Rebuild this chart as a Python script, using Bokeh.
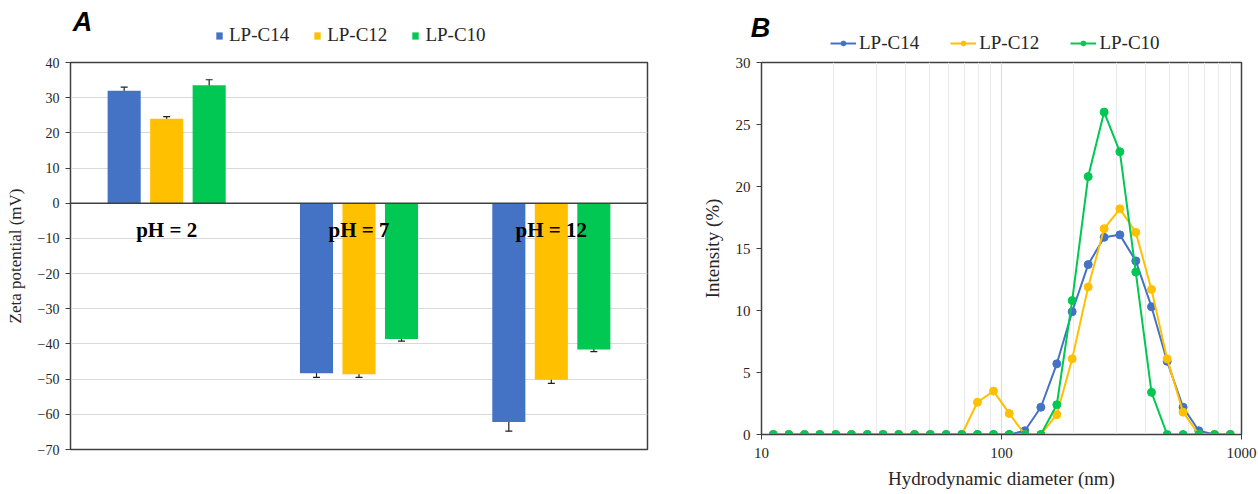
import numpy as np
from bokeh.plotting import figure
from bokeh.models import (ColumnDataSource, Whisker, TeeHead, Span, Legend, LegendItem, Label,
                          FixedTicker, Range1d, PrintfTickFormatter)
from bokeh.layouts import row, column
from bokeh.transform import dodge
from bokeh.core.properties import value
from bokeh.embed import file_html
from bokeh.resources import INLINE

# ---------------- data ----------------
categories = ["pH = 2", "pH = 7", "pH = 12"]
series_names = ["LP-C14", "LP-C12", "LP-C10"]
zeta_c14 = [32.0, -48.3, -62.2]
zeta_c12 = [24.0, -48.6, -50.2]
zeta_c10 = [33.5, -38.6, -41.6]
err_c14 = [1.0, 1.2, 2.6]
err_c12 = [0.6, 0.9, 1.0]
err_c10 = [1.6, 0.6, 0.6]
zeta_ticks = [-70, -60, -50, -40, -30, -20, -10, 0, 10, 20, 30, 40]

diameter_nm = [11.2, 13.0, 15.1, 17.5, 20.4, 23.7, 27.6, 32.1, 37.3, 43.4,
               50.5, 58.8, 68.3, 79.4, 92.6, 107.7, 125.1, 145.9, 170.0, 197.0,
               229.7, 267.7, 311.3, 362.7, 421.7, 490.0, 571.0, 664.0, 772.0, 898.0]
intensity_c14 = [0, 0, 0, 0, 0, 0, 0, 0, 0, 0,
                 0, 0, 0, 0, 0, 0, 0.3, 2.2, 5.7, 9.9,
                 13.7, 15.9, 16.1, 14.0, 10.3, 5.9, 2.2, 0.3, 0, 0]
intensity_c12 = [0, 0, 0, 0, 0, 0, 0, 0, 0, 0,
                 0, 0, 0, 2.6, 3.5, 1.7, 0, 0, 1.6, 6.1,
                 11.9, 16.6, 18.2, 16.3, 11.7, 6.1, 1.8, 0, 0, 0]
intensity_c10 = [0, 0, 0, 0, 0, 0, 0, 0, 0, 0,
                 0, 0, 0, 0, 0, 0, 0, 0, 2.4, 10.8,
                 20.8, 26.0, 22.8, 13.1, 3.4, 0, 0, 0, 0, 0]
x_major = [10, 100, 1000]
x_minor = [20, 30, 40, 50, 60, 70, 80, 90, 200, 300, 400, 500, 600, 700, 800, 900]
y_ticks_b = [0, 5, 10, 15, 20, 25, 30]

colors = ["#4472C4", "#FFC000", "#00C853"]
SERIF = "Liberation Serif"
SANS = "Liberation Sans"
TXT = "#262626"
AX = "#404040"
keys = ["c14", "c12", "c10"]

srcA = ColumnDataSource(dict(
    idx=list(range(len(categories))), cat=categories,
    c14=zeta_c14, c12=zeta_c12, c10=zeta_c10,
    c14_lo=[v - e for v, e in zip(zeta_c14, err_c14)], c14_hi=[v + e for v, e in zip(zeta_c14, err_c14)],
    c12_lo=[v - e for v, e in zip(zeta_c12, err_c12)], c12_hi=[v + e for v, e in zip(zeta_c12, err_c12)],
    c10_lo=[v - e for v, e in zip(zeta_c10, err_c10)], c10_hi=[v + e for v, e in zip(zeta_c10, err_c10)],
))
srcB = ColumnDataSource(dict(d=diameter_nm, c14=intensity_c14, c12=intensity_c12, c10=intensity_c10))

# ---------------- panel A ----------------
WA = 680
pA = figure(frame_width=577, frame_height=387, min_border_left=70, min_border_right=33,
            min_border_top=8, min_border_bottom=38,
            x_range=Range1d(-0.5, 2.5), y_range=Range1d(-70, 40),
            output_backend="svg", toolbar_location=None)
pA.xaxis.visible = False
pA.xgrid.grid_line_color = None
pA.ygrid.grid_line_color = "#D9D9D9"
pA.ygrid.ticker = FixedTicker(ticks=zeta_ticks)
pA.yaxis.ticker = FixedTicker(ticks=zeta_ticks)
pA.yaxis.axis_label = "Zeta potential (mV)"
pA.yaxis.axis_label_text_font = SERIF
pA.yaxis.axis_label_text_font_style = "normal"
pA.yaxis.axis_label_text_font_size = "17px"
pA.yaxis.axis_label_text_color = TXT
pA.yaxis.axis_label_standoff = 10
pA.yaxis.major_label_text_font = SERIF
pA.yaxis.major_label_text_font_size = "14px"
pA.yaxis.major_label_text_color = TXT
pA.yaxis.major_label_standoff = 6
pA.yaxis.major_tick_in = 0
pA.yaxis.major_tick_out = 5
pA.yaxis.minor_tick_line_color = None
pA.yaxis.axis_line_color = AX
pA.yaxis.major_tick_line_color = AX
pA.outline_line_color = AX
pA.outline_line_width = 1.5

offsets = [-0.221, 0.0, 0.221]
for k, off, col in zip(keys, offsets, colors):
    pA.vbar(x=dodge("idx", off), top=k, bottom=0, width=0.172, source=srcA,
            fill_color=col, line_color=None)
for k, off in zip(keys, offsets):
    w = Whisker(source=srcA, base=dodge("idx", off), upper=k + "_hi", lower=k + "_lo",
                line_color="#202020", line_width=1.2,
                upper_head=TeeHead(size=7, line_color="#202020", line_width=1.2),
                lower_head=TeeHead(size=7, line_color="#202020", line_width=1.2))
    pA.add_layout(w)
pA.add_layout(Span(location=0, dimension="width", line_color=AX, line_width=1.5))
pA.text(x="idx", y=-7.5, text="cat", source=srcA, text_font=value(SERIF),
        text_font_style="bold", text_font_size="21px", text_align="center",
        text_baseline="middle", text_color="#000000")

# ---------------- panel B ----------------
WB = 578
pB = figure(frame_width=480, frame_height=372, min_border_left=81, min_border_right=17,
            min_border_top=8, min_border_bottom=57,
            x_axis_type="log", x_range=Range1d(10, 1000), y_range=Range1d(0, 30),
            output_backend="svg", toolbar_location=None)
pB.xaxis.ticker = FixedTicker(ticks=x_major, minor_ticks=x_minor)
pB.xgrid.ticker = FixedTicker(ticks=x_major, minor_ticks=x_minor)
pB.xaxis.formatter = PrintfTickFormatter(format="%d")
pB.xgrid.grid_line_color = "#D9D9D9"
pB.xgrid.minor_grid_line_color = "#EBEBEB"
pB.ygrid.grid_line_color = None
pB.yaxis.ticker = FixedTicker(ticks=y_ticks_b)
for ax in (pB.xaxis[0], pB.yaxis[0]):
    ax.major_label_text_font = SERIF
    ax.major_label_text_font_size = "15px"
    ax.major_label_text_color = TXT
    ax.axis_label_text_font = SERIF
    ax.axis_label_text_font_style = "normal"
    ax.axis_label_text_font_size = "19px"
    ax.axis_label_text_color = TXT
    ax.major_tick_in = 0
    ax.major_tick_out = 5
    ax.minor_tick_line_color = None
    ax.axis_line_color = AX
    ax.major_tick_line_color = AX
pB.xaxis.axis_label = "Hydrodynamic diameter (nm)"
pB.xaxis.major_label_standoff = 8
pB.xaxis.axis_label_standoff = 7
pB.yaxis.axis_label = "Intensity (%)"
pB.yaxis.major_label_standoff = 6
pB.yaxis.axis_label_standoff = 10
pB.outline_line_color = AX
pB.outline_line_width = 1.5

for k, col in zip(keys, colors):
    pB.line(x="d", y=k, source=srcB, line_color=col, line_width=2)
    pB.scatter(x="d", y=k, source=srcB, size=8, fill_color=col, line_color=col)

# ---------------- header strip (panel letters + legends) ----------------
WH, HH = WA + WB, 54
hdr = figure(width=WH, height=HH, x_range=Range1d(0, WH), y_range=Range1d(0, HH),
             min_border=0, output_backend="svg", toolbar_location=None)
hdr.axis.visible = False
hdr.grid.grid_line_color = None
hdr.outline_line_color = None

itemsA, itemsB = [], []
for k, col, name in zip(keys, colors, series_names):
    r = hdr.vbar(x="idx", top=k, width=0.1, source=srcA, fill_color=col, line_color=None, visible=False)
    itemsA.append(LegendItem(label=name, renderers=[r], index=0))
    lr = hdr.line(x="d", y=k, source=srcB, line_color=col, line_width=2, visible=False)
    sr = hdr.scatter(x="d", y=k, source=srcB, size=8, fill_color=col, line_color=col, visible=False)
    itemsB.append(LegendItem(label=name, renderers=[lr, sr], index=0))

legend_style = dict(orientation="horizontal", padding=0, margin=0, border_line_color=None,
                    background_fill_alpha=0, inactive_fill_alpha=0,
                    label_text_font=SERIF, label_text_font_size="19px", label_text_color=TXT)
hdr.add_layout(Legend(items=itemsA, location=(215, 8), glyph_width=8, glyph_height=9,
                      label_standoff=6, spacing=24, **legend_style))
hdr.add_layout(Legend(items=itemsB, location=(830, 0), glyph_width=26, glyph_height=12,
                      label_standoff=3, spacing=31, **legend_style))
hdr.add_layout(Label(x=82, y=33, text="A", text_font=SANS, text_font_style="bold italic",
                     text_font_size="27px", text_align="center", text_baseline="middle",
                     text_color="#000000"))
hdr.add_layout(Label(x=760, y=27, text="B", text_font=SANS, text_font_style="bold italic",
                     text_font_size="27px", text_align="center", text_baseline="middle",
                     text_color="#000000"))

layout = column(hdr, row(pA, pB))
open("out.html", "w").write(file_html(layout, INLINE))
